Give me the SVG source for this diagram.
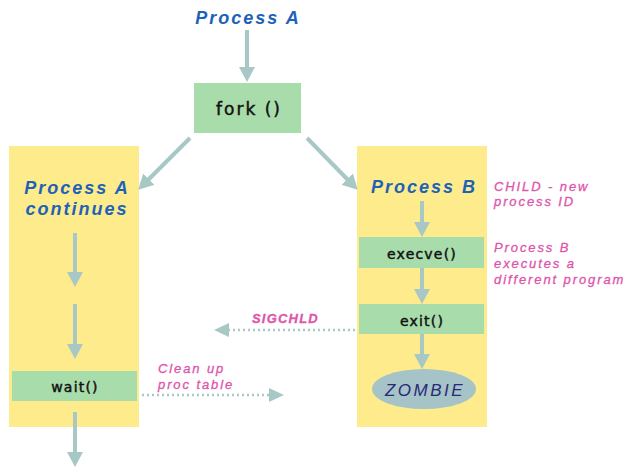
<svg xmlns="http://www.w3.org/2000/svg" width="635" height="473" viewBox="0 0 635 473">
<defs>
<marker id="ah" markerUnits="userSpaceOnUse" markerWidth="16" markerHeight="16" refX="4" refY="8" orient="auto">
<path d="M0,0 L15,8 L0,16 z" fill="#a8c8c6"/>
</marker>
<marker id="ahd" markerUnits="userSpaceOnUse" markerWidth="16" markerHeight="14" refX="3" refY="7" orient="auto">
<path d="M0,0 L15,7 L0,14 z" fill="#a8c8c6"/>
</marker>
</defs>
<style>
.lane{fill:#fdeb8c}
.box{fill:#a9dcab}
.arr{stroke:#a8c8c6;stroke-width:4;fill:none;marker-end:url(#ah)}
.dot{stroke:#a8c8c6;stroke-width:2.5;fill:none;stroke-dasharray:2 3;marker-end:url(#ahd)}
.title{font-family:"Liberation Sans",Arial,sans-serif;font-weight:bold;font-style:italic;font-size:18px;letter-spacing:2px;fill:#1d62b8}
.fn{font-family:"DejaVu Sans",sans-serif;font-size:14px;letter-spacing:1.2px;fill:#111;stroke:#111;stroke-width:0.45px;text-anchor:middle}
.note{font-family:"Liberation Sans",Arial,sans-serif;font-style:italic;font-size:13px;letter-spacing:1.9px;fill:#dd55ab;stroke:#dd55ab;stroke-width:0.3px}
</style>
<rect class="lane" x="9" y="146" width="130" height="281"/>
<rect class="lane" x="357" y="146" width="130" height="281"/>
<g id="processA"><text class="title" x="248" y="24" text-anchor="middle">Process A</text></g>
<g id="fork"><rect class="box" x="194" y="83" width="107" height="50"/><text class="fn" x="249" y="115" style="font-size:17px;letter-spacing:2px">fork ()</text></g>
<g id="processAcont"><text class="title" x="77" y="194" text-anchor="middle">Process A</text><text class="title" x="77" y="215" text-anchor="middle">continues</text></g>
<g id="wait"><rect class="box" x="12" y="371" width="125" height="30"/><text class="fn" x="75" y="392">wait()</text></g>
<g id="processB"><text class="title" x="424" y="193" text-anchor="middle">Process B</text></g>
<g id="execve"><rect class="box" x="359" y="237" width="125" height="31"/><text class="fn" x="422" y="259">execve()</text></g>
<g id="exit"><rect class="box" x="359" y="304" width="125" height="30"/><text class="fn" x="422" y="326">exit()</text></g>
<g id="zombie"><ellipse cx="424" cy="389" rx="52" ry="20" fill="#a6c3c7"/><text x="425" y="396" text-anchor="middle" style="font-family:'Liberation Sans',Arial,sans-serif;font-style:italic;font-size:17px;letter-spacing:2.5px;fill:#2b2a78">ZOMBIE</text></g>
<g id="notes">
<text class="note" x="494" y="191">CHILD - new</text>
<text class="note" x="494" y="206">process ID</text>
<text class="note" x="494" y="252">Process B</text>
<text class="note" x="494" y="268">executes a</text>
<text class="note" x="494" y="284">different program</text>
<text class="note" x="158" y="373">Clean up</text>
<text class="note" x="158" y="389">proc table</text>
<text class="note" x="252" y="323" style="font-weight:bold;letter-spacing:1.2px">SIGCHLD</text>
</g>
<g id="connectors">
<line class="arr" x1="247" y1="30" x2="247" y2="71"/>
<line class="arr" x1="190" y1="138" x2="146" y2="182"/>
<line class="arr" x1="307" y1="138" x2="350" y2="182"/>
<line class="arr" x1="75" y1="233" x2="75" y2="276"/>
<line class="arr" x1="75" y1="304" x2="75" y2="348"/>
<line class="arr" x1="75" y1="412" x2="75" y2="456"/>
<line class="arr" x1="422" y1="201" x2="422" y2="226"/>
<line class="arr" x1="422" y1="268" x2="422" y2="293"/>
<line class="arr" x1="422" y1="334" x2="422" y2="358"/>
<line class="dot" x1="355" y1="330" x2="226" y2="330"/>
<line class="dot" x1="142" y1="395" x2="272" y2="395"/>
</g>
</svg>
